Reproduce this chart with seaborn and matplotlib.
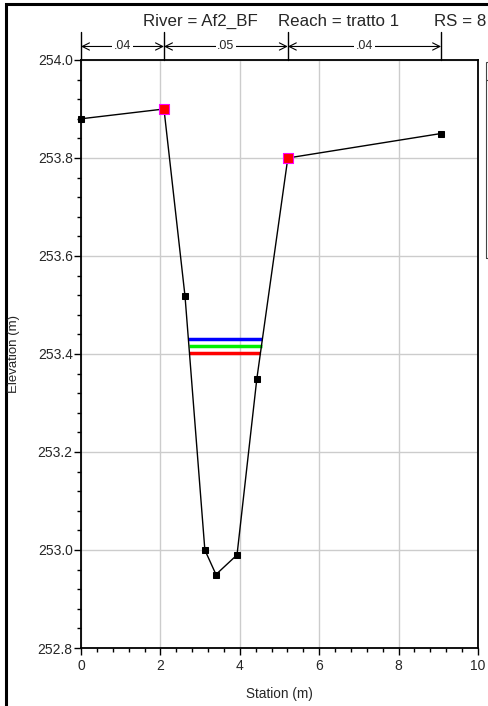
import seaborn as sns
import matplotlib.pyplot as plt
import matplotlib.transforms as mtransforms
from matplotlib.patches import Rectangle
from matplotlib.ticker import MultipleLocator, FormatStrFormatter
import pandas as pd

# ground profile
station = [0.0, 2.09, 2.62, 3.12, 3.40, 3.93, 4.43, 5.21, 9.07]
elevation = [253.88, 253.90, 253.518, 253.00, 252.95, 252.99, 253.35, 253.80, 253.85]
# bank stations
bank_station = [2.09, 5.21]
bank_elev = [253.90, 253.80]
# water surfaces
ws_elev = [253.431, 253.416, 253.402]
ws_left = [2.70, 2.72, 2.73]
ws_right = [4.57, 4.55, 4.52]
ws_colors = ['#0000ff', '#00ee00', '#ff0000']
# manning n breaks
n_breaks = [0.0, 2.09, 5.21, 9.07]
n_values = ['.04', '.05', '.04']

sns.set_style('white')
plt.rcParams['font.family'] = ['Liberation Sans', 'DejaVu Sans']

fig = plt.figure(figsize=(4.88, 7.06), dpi=100)
ax = fig.add_axes([81 / 488, 58 / 706, 397 / 488, 588 / 706])

ax.grid(True, color='#cccccc', lw=1.0)
ax.set_axisbelow(True)

df = pd.DataFrame({'Station': station, 'Elevation': elevation})
sns.lineplot(data=df, x='Station', y='Elevation', sort=False, color='black',
             lw=1.0, marker='s', markersize=5, markeredgecolor='black', ax=ax,
             clip_on=False, zorder=4)
ax.hlines(ws_elev, ws_left, ws_right, colors=ws_colors, lw=2.5, zorder=3)
sns.scatterplot(x=bank_station, y=bank_elev, marker='s', s=50, color='red',
                edgecolor='#ff00ff', linewidth=0.8, ax=ax, zorder=5)

ax.set_xlim(0, 10)
ax.set_ylim(252.8, 254.0)
ax.xaxis.set_major_locator(MultipleLocator(2))
ax.xaxis.set_minor_locator(MultipleLocator(0.4))
ax.yaxis.set_major_locator(MultipleLocator(0.2))
ax.yaxis.set_minor_locator(MultipleLocator(0.04))
ax.yaxis.set_major_formatter(FormatStrFormatter('%.1f'))
ax.tick_params(which='major', direction='out', length=5, width=1, color='black',
               labelsize=10, bottom=True, left=True, pad=1)
ax.tick_params(axis='x', which='major', pad=3)
ax.tick_params(which='minor', direction='out', length=3, width=1, color='black',
               bottom=True, left=True)
for s in ax.spines.values():
    s.set_color('black')
    s.set_linewidth(1.3)
ax.set_xlabel('Station (m)', fontsize=9.8, labelpad=10)
ax.set_ylabel('')
fig.text(14 / 488, 58 / 706 + 0.5 * 588 / 706, 'Elevation (m)', fontsize=9.5,
         rotation=90, ha='center', va='center')

# manning n arrows above the plot
trans = mtransforms.blended_transform_factory(ax.transData, ax.transAxes)
for xb in n_breaks:
    ax.plot([xb, xb], [1.0, 1.047], color='black', lw=1.0, transform=trans, clip_on=False)
for i, lab in enumerate(n_values):
    x0, x1 = n_breaks[i], n_breaks[i + 1]
    ax.annotate('', xy=(x0, 1.023), xytext=(x1, 1.023), xycoords=trans, textcoords=trans,
                arrowprops=dict(arrowstyle='<->', color='black', lw=0.8,
                                shrinkA=0, shrinkB=0, mutation_scale=13),
                annotation_clip=False)
    ax.text((x0 + x1) / 2, 1.023, lab, transform=trans, ha='center', va='center',
            fontsize=9, bbox=dict(facecolor='white', edgecolor='none', pad=1.0))

# title pieces
fig.text(143 / 488, 1 - 21 / 706, 'River = Af2_BF', fontsize=12.2, ha='left', va='center')
fig.text(278 / 488, 1 - 21 / 706, 'Reach = tratto 1', fontsize=12.2, ha='left', va='center')
fig.text(434 / 488, 1 - 21 / 706, 'RS = 8', fontsize=12.2, ha='left', va='center')

# legend box (cut off) and outer frame
fig.patches.append(Rectangle((485.5 / 488, 1 - 258 / 706), 20 / 488, 196 / 706,
                             transform=fig.transFigure, fill=False, edgecolor='#444444', lw=0.8))
fig.lines.append(plt.Line2D([485.5 / 488, 1.0], [1 - 80 / 706, 1 - 80 / 706],
                            transform=fig.transFigure, color='#444444', lw=0.8))
fig.patches.append(Rectangle((5.5 / 488, -0.1), 1.0, 1.1 - 3.5 / 706,
                             transform=fig.transFigure, fill=False, edgecolor='black', lw=2.2))

fig.savefig('out.png', dpi=100)
